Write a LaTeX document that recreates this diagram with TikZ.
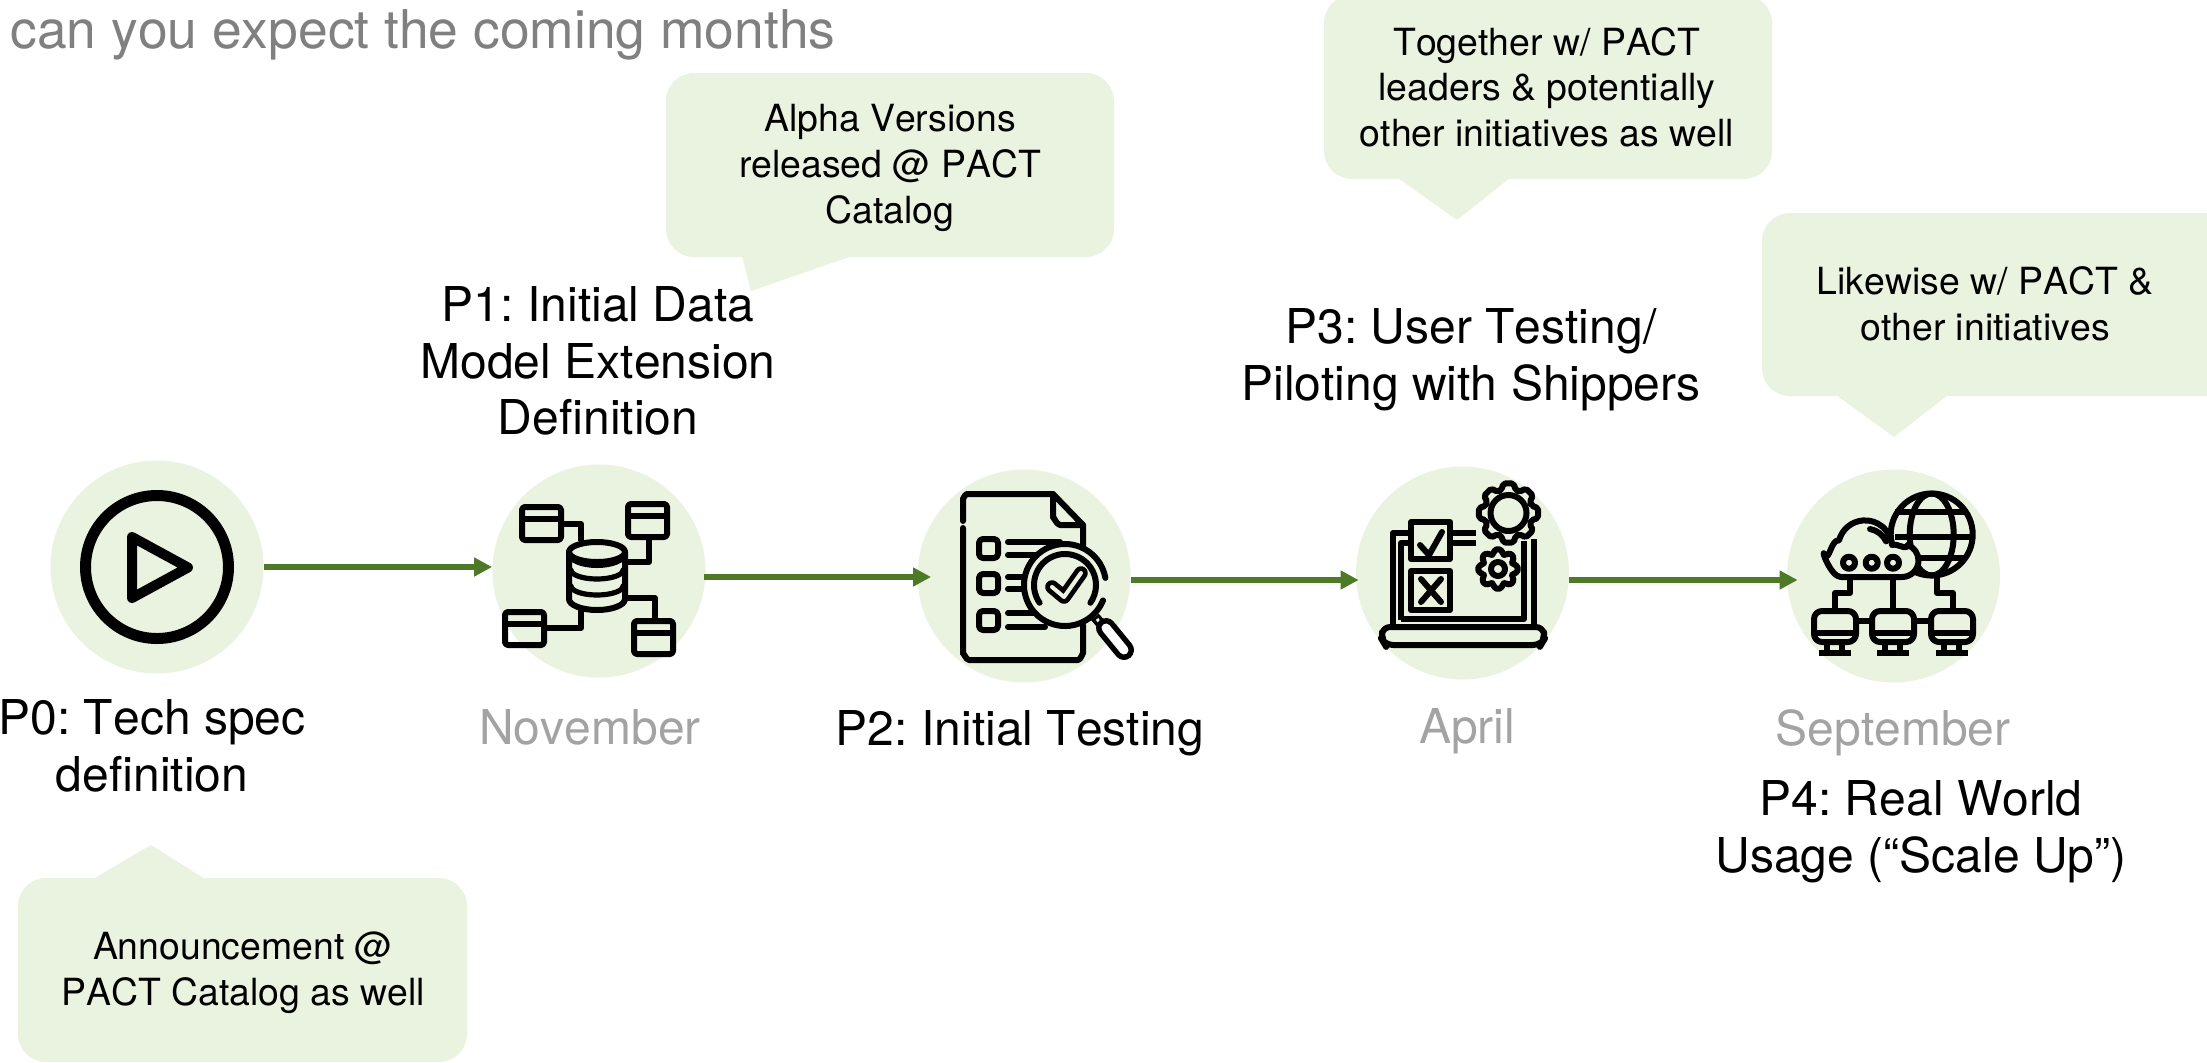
\documentclass[tikz,border=0pt]{standalone}
\usepackage{fontspec}
\setmainfont[Kerning=Off]{TeX Gyre Heros}
\usetikzlibrary{arrows.meta}
\definecolor{softgreen}{HTML}{EAF3E0}
\definecolor{flowgreen}{HTML}{4E7A27}
\definecolor{monthgrey}{HTML}{A3A3A3}
\definecolor{titlegrey}{HTML}{808080}
\tikzset{
  disc/.style={circle,fill=softgreen,minimum size=106.5pt,inner sep=0pt},
  flow/.style={draw=flowgreen,line width=3.3pt,-{Triangle[length=9pt,width=9pt]}},
  bubble/.style={fill=softgreen,rounded corners=14pt},
  tail/.style={fill=softgreen},
  biglabel/.style={align=center,inner sep=0pt,font=\fontsize{24pt}{28.4pt}\selectfont\frenchspacing},
  monthlabel/.style={inner sep=0pt,text=monthgrey,font=\fontsize{24pt}{28.4pt}\selectfont},
  smalllabel/.style={align=center,inner sep=0pt,font=\fontsize{18.7pt}{22.8pt}\selectfont\frenchspacing},
  ink/.style={draw=black,line width=3pt,line join=round,line cap=round},
  thinink/.style={draw=black,line width=2.6pt,line join=round,line cap=round},
}
% database table box
\newcommand{\tablebox}[2]{%
  \draw[ink,rounded corners=1.5pt] (#1+2,#2+2) rectangle (#1+41,#2+35);
  \draw[ink,line cap=butt] (#1+2,#2+14) -- (#1+41,#2+14);
}
% monitor
\newcommand{\screenunit}[1]{%
  \begin{scope}[xshift=#1*0.5pt]
  \draw[ink,rounded corners=4pt] (1814,611) rectangle (1856,642);
  \draw[thinink,line cap=butt] (1814,633) -- (1856,633);
  \draw[thinink] (1827,642) -- (1827,652) (1842,642) -- (1842,652);
  \draw[ink,line cap=butt] (1819,653) -- (1851,653);
  \end{scope}
}
% gear outline
\newcommand{\cog}[5]{%
  \begin{scope}[shift={(#1,#2)}]
  \draw[ink,rounded corners=1pt] (-17:#4)
    \foreach \a in {0,45,...,315} { -- (\a-17:#4) -- (\a-10:#3) -- (\a+10:#3) -- (\a+17:#4) } -- cycle;
  \draw[ink] (0,0) circle[radius=#5];
  \end{scope}
}
\begin{document}
\begin{tikzpicture}[x=0.5pt,y=-0.5pt]
\useasboundingbox (0,0) rectangle (2207,1062);
\clip (0,0) rectangle (2207,1062);
\fill[white] (0,0) rectangle (2207,1062);

% callouts
\fill[bubble] (666,73) rectangle (1114,257);
\fill[tail] (742,256) -- (751,291) -- (852,256) -- cycle;
\fill[bubble] (1324,-5) rectangle (1772,179);
\fill[tail] (1398,178) -- (1457,220) -- (1510,178) -- cycle;
\fill[bubble] (1762,213) rectangle (2240,396);
\fill[tail] (1836,395) -- (1894,437) -- (1948,395) -- cycle;
\fill[bubble] (18,878) rectangle (467,1062);
\fill[tail] (93,879) -- (151,845) -- (205,879) -- cycle;

% discs
\node[disc] (c0) at (157,567) {};
\node[disc] (c1) at (599,571) {};
\node[disc] (c2) at (1024,576) {};
\node[disc] (c3) at (1462.5,573) {};
\node[disc] (c4) at (1893.5,576) {};

% connectors
\draw[flow] (c0.east) -- ([yshift=2pt]c1.west);
\draw[flow] ([yshift=-3pt,xshift=-1pt]c1.east) -- ([yshift=-0.5pt,xshift=7pt]c2.west);
\draw[flow] ([yshift=-2pt]c2.east) -- ([yshift=-3.5pt,xshift=1.5pt]c3.west);
\draw[flow] ([yshift=-3.5pt]c3.east) -- ([yshift=-2pt,xshift=5.5pt]c4.west);

% icon: play
\draw[draw=black,line width=5.5pt] (c0) circle[radius=71.5];
\draw[draw=black,line width=5pt,line join=round] (132,537) -- (132,598) -- (188,567.5) -- cycle;

% icon: database
\tablebox{520}{505}
\tablebox{626}{502}
\tablebox{503}{610}
\tablebox{632}{619}
\draw[ink,line cap=butt] (564,524) -- (581,524) -- (581,541);
\draw[ink,line cap=butt] (649,538) -- (649,562) -- (626,562);
\draw[ink,line cap=butt] (626,598) -- (655,598) -- (655,620);
\draw[ink,line cap=butt] (581,610) -- (581,628) -- (546,628);
\draw[ink] (597,552) ellipse[x radius=28,y radius=10];
\draw[ink] (569,552) -- (569,599) arc[start angle=180,end angle=0,x radius=28,y radius=11] -- (625,552);
\draw[ink] (569,553) arc[start angle=180,end angle=0,x radius=28,y radius=12];
\draw[thinink] (571,570) arc[start angle=180,end angle=0,x radius=26,y radius=9];
\draw[thinink] (571,586) arc[start angle=180,end angle=0,x radius=26,y radius=9];

% icon: document
\draw[ink] (963,521) -- (963,498) to[out=-90,in=180] (967,494) -- (1053,494) -- (1083,525) -- (1083,548);
\draw[ink] (963,528) -- (963,654) to[out=90,in=180] (969,660) -- (1078,660) to[out=0,in=90] (1083,654) -- (1083,625);
\draw[ink] (1053,494) -- (1053,518) to[out=90,in=180] (1060,525) -- (1083,525);
\foreach \yy in {539,574,611}{
  \draw[ink,rounded corners=2pt] (979,\yy) rectangle (998,\yy+19);
}
\draw[ink] (1008,542) -- (1060,542) (1008,555) -- (1040,555)
           (1008,577) -- (1028,577) (1008,589) -- (1028,589)
           (1008,613) -- (1035,613) (1008,627) -- (1045,627);
\fill[softgreen] (1065,585) circle[radius=42];
\draw[ink] (1065,585) ++(22:41) arc[start angle=22,end angle=350,radius=41];
\draw[ink] (1065,585) ++(145:31) arc[start angle=145,end angle=395,radius=31];
\draw[draw=black,line width=6.8pt,line cap=round,line join=round] (1052,587) -- (1064,597) -- (1081,573);
\draw[draw=softgreen,line width=2pt,line cap=round,line join=round] (1052,587) -- (1064,597) -- (1081,573);
\draw[draw=black,line width=5pt] (1095,617) -- (1107,631);
\draw[draw=softgreen,line width=1.5pt] (1097,619) -- (1105,629);
\draw[draw=black,line width=10pt,line cap=round] (1106,628) -- (1124,650);
\draw[draw=white,line width=4.5pt,line cap=round] (1106,628) -- (1124,650);

% icon: laptop
\draw[ink,rounded corners=4pt] (1382,627) -- (1544,627) -- (1544,640) -- (1541,645) -- (1385,645) -- (1382,640) -- cycle;
\draw[ink,line cap=butt] (1393,626) -- (1393,533) -- (1411,533);
\draw[ink,line cap=butt] (1401,620) -- (1401,543) -- (1411,543);
\draw[ink,line cap=butt] (1401,619) -- (1524,619) -- (1524,541);
\draw[ink,line cap=butt] (1534,626) -- (1534,539);
\draw[ink] (1411,522) rectangle (1450,559);
\draw[ink] (1411,571) rectangle (1450,610);
\draw[ink] (1420,545) -- (1429,555) -- (1442,532);
\draw[ink] (1421,579) -- (1441,602) (1441,579) -- (1421,602);
\draw[ink,line cap=butt] (1451,533) -- (1476,533) (1451,543) -- (1476,543);
\cog{1508.5}{513}{30}{24}{18}
\cog{1498}{569}{20}{15.5}{7}

% icon: network
\draw[ink] (1931.7,534.5) circle[radius=41];
\draw[ink] (1931.7,534.5) ellipse[x radius=22,y radius=41];
\draw[ink,line cap=butt] (1895,512) -- (1968,512) (1895,537) -- (1973,537) (1905,558) -- (1965,558);
\fill[softgreen] (1841,577) -- (1902,577)
   arc[start angle=90,end angle=-70,radius=16.5]
   to[out=-100,in=20] (1892,545)
   arc[start angle=-5,end angle=-165,radius=27]
   to[out=170,in=-60] (1825,555) to[out=120,in=-180] (1841,577);
\draw[ink] (1841,577) -- (1902,577)
   arc[start angle=90,end angle=-70,radius=16.5]
   to[out=-100,in=20] (1892,545)
   arc[start angle=-5,end angle=-165,radius=27]
   to[out=170,in=-60] (1825,555) to[out=120,in=-180] (1841,577);
\draw[ink] (1870,529) arc[start angle=-80,end angle=-25,radius=22];
\draw[ink] (1849,562.7) circle[radius=6] (1871.7,562.7) circle[radius=6] (1893,562.7) circle[radius=6];
\draw[ink,line cap=butt] (1893,578) -- (1893,609);
\draw[ink,line cap=butt] (1850,578) -- (1850,593) -- (1835,593) -- (1835,609);
\draw[ink,line cap=butt] (1937,578) -- (1937,593) -- (1953,593) -- (1953,609);
\screenunit{0}
\screenunit{58}
\screenunit{117}
\draw[ink,line cap=butt] (1857,621) -- (1871,621) (1915,621) -- (1930,621);

% texts
\node[anchor=west,inner sep=0pt,text=titlegrey,font=\fontsize{26.7pt}{32pt}\selectfont] (ttl) at (10,35) {can you expect the coming months};
\node[biglabel] (p1) at (598,361) {P1: Initial Data\\Model Extension\\Definition};
\node[biglabel] (p0) at (152,746) {P0: Tech spec\\definition};
\node[biglabel] (p2) at (1020,733) {P2: Initial Testing};
\node[biglabel] (p3) at (1471,360) {P3: User Testing/\\Piloting with Shippers};
\node[biglabel] (p4) at (1921,832) {P4: Real World\\Usage (“Scale Up”)};
\node[monthlabel] (m1) at (590,727) {November};
\node[monthlabel] (m3) at (1467,731) {April};
\node[monthlabel] (m4) at (1893,733) {September};
\node[smalllabel] (a) at (890,168) {Alpha Versions\\released @ PACT\\Catalog};
\node[smalllabel] (b) at (1547,87) {Together w/ PACT\\leaders \& potentially\\other initiatives as well};
\node[smalllabel] (cc) at (1985,304) {Likewise w/ PACT \&\\other initiatives};
\node[smalllabel] (d) at (243,973) {Announcement @\\PACT Catalog as well};
\end{tikzpicture}
\end{document}
